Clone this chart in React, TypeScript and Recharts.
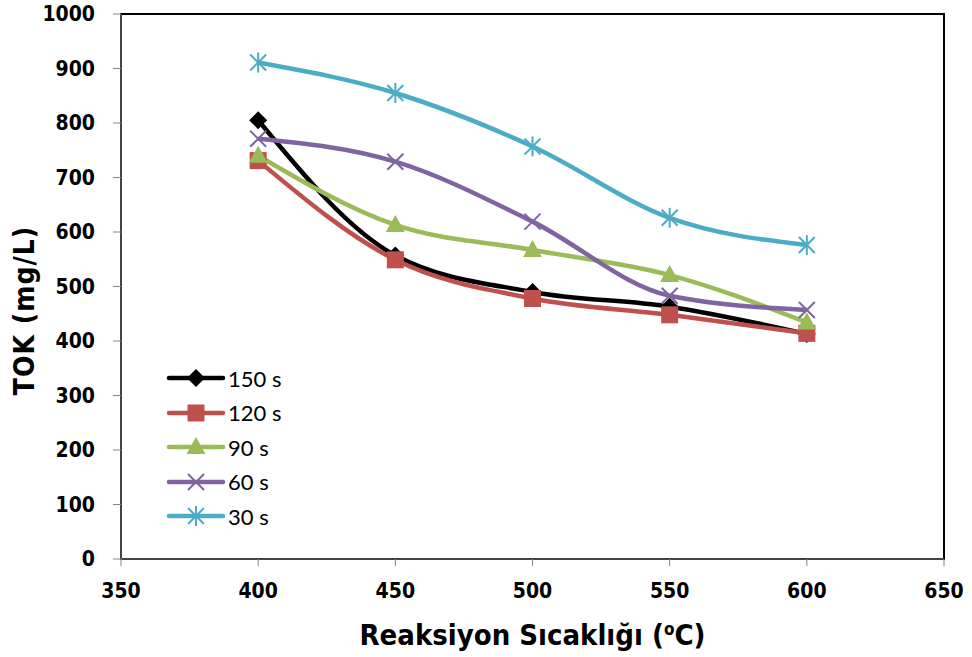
import React from 'react';
import { LineChart, Line, XAxis, YAxis, ReferenceArea } from 'recharts';

const temps = [400, 450, 500, 550, 600];
const s150 = [805, 557, 490, 463, 413];
const s120 = [731, 549, 478, 448, 414];
const s90 = [740, 613, 567, 521, 434];
const s60 = [771, 729, 619, 483, 457];
const s30 = [911, 855, 757, 626, 576];

const xTicks = [350, 400, 450, 500, 550, 600, 650];
const yTicks = [0, 100, 200, 300, 400, 500, 600, 700, 800, 900, 1000];

const series = [
  { key: 's150', name: '150 s', color: '#000000', marker: 'diamond', values: s150 },
  { key: 's120', name: '120 s', color: '#C0504D', marker: 'square', values: s120 },
  { key: 's90', name: '90 s', color: '#9BBB59', marker: 'triangle', values: s90 },
  { key: 's60', name: '60 s', color: '#8064A2', marker: 'x', values: s60 },
  { key: 's30', name: '30 s', color: '#4BACC6', marker: 'star', values: s30 },
];

const data = temps.map((t, i) => {
  const row: any = { t };
  series.forEach((s) => (row[s.key] = s.values[i]));
  return row;
});

const AXIS_GRAY = '#868686';
const FONT = 'DejaVu Sans Condensed';
const TICK_FONT = { fontFamily: FONT, fontWeight: 'bold', fontSize: 21, fill: '#000' };

function Marker({ cx, cy, type, color }: { cx: number; cy: number; type: string; color: string }) {
  if (cx == null || cy == null) return null;
  switch (type) {
    case 'diamond':
      return <polygon points={`${cx},${cy - 9} ${cx + 9},${cy} ${cx},${cy + 9} ${cx - 9},${cy}`} fill={color} />;
    case 'square':
      return <rect x={cx - 8.5} y={cy - 8.5} width={17} height={17} fill={color} />;
    case 'triangle':
      return <polygon points={`${cx},${cy - 10} ${cx + 9.5},${cy + 7} ${cx - 9.5},${cy + 7}`} fill={color} />;
    case 'x':
      return (
        <g stroke={color} strokeWidth={2}>
          <line x1={cx - 8} y1={cy - 8} x2={cx + 8} y2={cy + 8} />
          <line x1={cx - 8} y1={cy + 8} x2={cx + 8} y2={cy - 8} />
        </g>
      );
    case 'star':
      return (
        <g stroke={color} strokeWidth={2}>
          <line x1={cx - 8} y1={cy - 8} x2={cx + 8} y2={cy + 8} />
          <line x1={cx - 8} y1={cy + 8} x2={cx + 8} y2={cy - 8} />
          <line x1={cx} y1={cy - 10} x2={cx} y2={cy + 10} />
        </g>
      );
    default:
      return null;
  }
}

function LegendBox() {
  return (
    <div style={{ position: 'absolute', left: 166, top: 361, fontFamily: 'Lato', fontSize: 22, color: '#000' }}>
      {series.map((s) => (
        <div key={s.key} style={{ display: 'flex', alignItems: 'center', height: 34.5 }}>
          <svg width={60} height={24} style={{ display: 'block' }}>
            <line x1={3} y1={12} x2={57} y2={12} stroke={s.color} strokeWidth={4.5} strokeLinecap="round" />
            <Marker cx={30} cy={12} type={s.marker} color={s.color} />
          </svg>
          <span style={{ marginLeft: 2 }}>{s.name}</span>
        </div>
      ))}
    </div>
  );
}

export default function App() {
  return (
    <div style={{ position: 'absolute', left: 0, top: 0, width: 972, height: 657, background: '#fff' }}>
      <LineChart width={972} height={657} data={data} margin={{ top: 14, right: 28, left: 0, bottom: 0 }}>
        <ReferenceArea x1={350} x2={650} y1={0} y2={1000} fill="none" stroke="#000" strokeWidth={2} ifOverflow="visible" />
        <XAxis
          dataKey="t"
          type="number"
          domain={[350, 650]}
          ticks={xTicks}
          allowDataOverflow
          stroke={AXIS_GRAY}
          tickSize={7}
          tickMargin={17}
          tick={TICK_FONT}
          height={98}
          label={{
            content: (p: any) => {
              const vb = p.viewBox;
              return (
                <text x={vb.x + vb.width / 2} y={vb.y + 86} textAnchor="middle" fontFamily={FONT} fontWeight="bold" fontSize={29} fill="#000">
                  Reaksiyon Sıcaklığı (<tspan fontSize={17} dy={-10}>o</tspan><tspan dy={10}>C)</tspan>
                </text>
              );
            },
          }}
        />
        <YAxis
          type="number"
          domain={[0, 1000]}
          ticks={yTicks}
          allowDataOverflow
          stroke={AXIS_GRAY}
          tickSize={8}
          tickMargin={18}
          tick={TICK_FONT}
          width={121}
          label={{
            content: (p: any) => {
              const vb = p.viewBox;
              const x = vb.x + 34;
              const y = vb.y + vb.height / 2 + 24;
              return (
                <text x={x} y={y} transform={`rotate(-90 ${x} ${y})`} textAnchor="middle" fontFamily={FONT} fontWeight="bold" fontSize={28} letterSpacing={1} fill="#000">
                  TOK (mg/L)
                </text>
              );
            },
          }}
        />
        {series.map((s) => (
          <Line
            key={s.key}
            type="monotone"
            dataKey={s.key}
            name={s.name}
            stroke={s.color}
            strokeWidth={4.5}
            isAnimationActive={false}
            dot={(p: any) => (
              <g key={`${s.key}-${p.index}`}>
                <Marker cx={p.cx} cy={p.cy} type={s.marker} color={s.color} />
              </g>
            )}
            activeDot={false}
          />
        ))}
      </LineChart>
      <LegendBox />
    </div>
  );
}
